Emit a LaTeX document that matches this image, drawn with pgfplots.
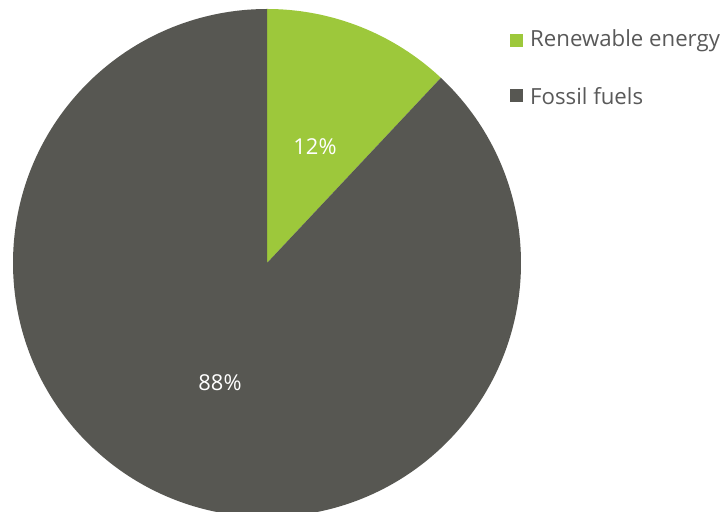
\documentclass[border=0pt]{standalone}
\usepackage{pgfplots}
\usepackage{pgfplotstable}
\pgfplotsset{compat=1.18}
\usepackage{fontspec}
\setmainfont{Open Sans}
\definecolor{renew}{HTML}{9DC83B}
\definecolor{fossil}{HTML}{575752}
\definecolor{legtext}{HTML}{595959}
\pgfplotstableread{
label value
Renewable 12
Fossil 88
}\piedata
\begin{document}
\begin{tikzpicture}
\useasboundingbox (0,0) rectangle (723bp,512bp);
\clip (0,0) rectangle (723bp,512bp);
\pgfplotstablegetelem{0}{value}\of\piedata \let\va\pgfplotsretval
\pgfplotstablegetelem{1}{value}\of\piedata \let\vb\pgfplotsretval
\pgfmathsetmacro\angA{90-3.6*\va}
\pgfmathsetmacro\angB{\angA-3.6*\vb}
\begin{axis}[at={(0,0)},anchor=south west,width=723bp,height=512bp,scale only axis,xmin=0,xmax=723,ymin=0,ymax=512,hide axis,clip=true]
\fill[renew] (axis cs:267,249) -- (axis cs:267,503) arc[start angle=90,end angle=\angA,radius=254bp] -- cycle;
\fill[fossil] (axis cs:267,249) -- ++(\angA:254bp) arc[start angle=\angA,end angle=\angB,radius=254bp] -- cycle;
\node[text=white,font=\fontsize{22}{26}\selectfont] at (axis cs:315,365) {12\%};
\node[text=white,font=\fontsize{22}{26}\selectfont] at (axis cs:220,129) {88\%};
\fill[renew] (axis cs:510,478) rectangle (axis cs:523,465);
\fill[fossil] (axis cs:510,423) rectangle (axis cs:523,410);
\node[anchor=west,inner sep=0pt,text=legtext,font=\fontsize{22.3}{26}\selectfont] at (axis cs:530,471) {Renewable energy};
\node[anchor=west,inner sep=0pt,text=legtext,font=\fontsize{22.3}{26}\selectfont] at (axis cs:530,416) {Fossil fuels};
\end{axis}
\end{tikzpicture}
\end{document}
